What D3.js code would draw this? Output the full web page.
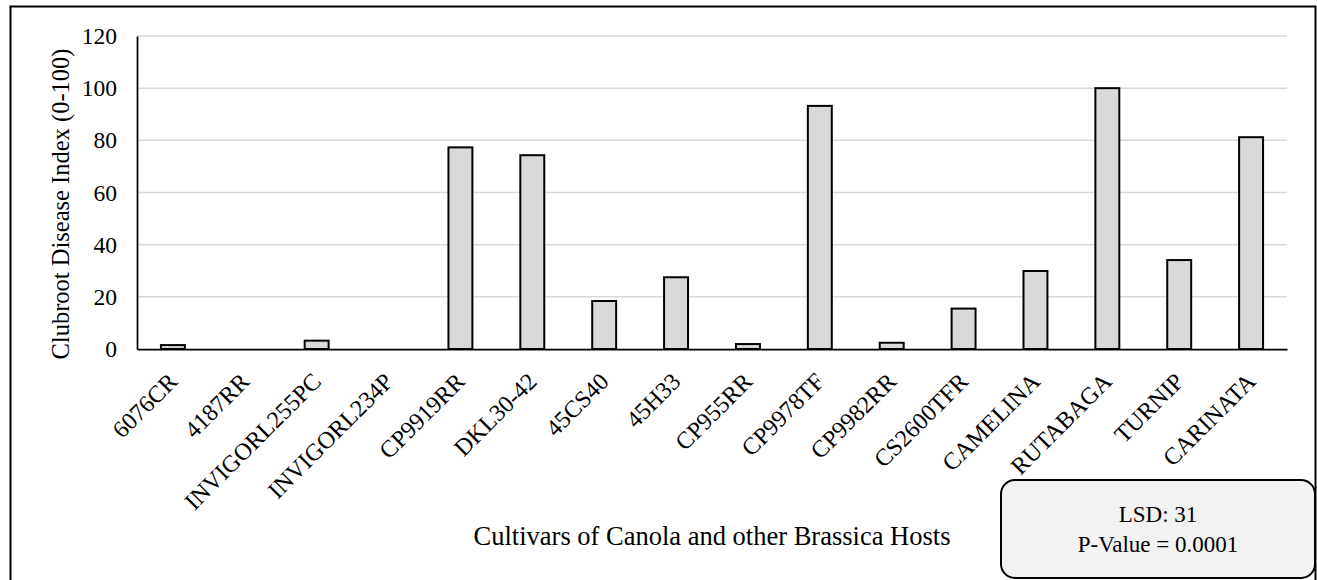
<!DOCTYPE html>
<html>
<head>
<meta charset="utf-8">
<script src="https://cdn.jsdelivr.net/npm/d3@7"></script>
<style>
  html, body { margin: 0; padding: 0; background: #fff; }
  svg { display: block; }
  text { font-family: "Liberation Serif", "Times New Roman", serif; fill: #000; }
</style>
</head>
<body>
<svg id="chart" width="1317" height="580"></svg>
<script>
const categories = ["6076CR", "4187RR", "INVIGORL255PC", "INVIGORL234P", "CP9919RR", "DKL30-42",
  "45CS40", "45H33", "CP955RR", "CP9978TF", "CP9982RR", "CS2600TFR", "CAMELINA", "RUTABAGA",
  "TURNIP", "CARINATA"];
const diseaseIndex = [1.5, 0, 3.2, 0, 77.3, 74.3, 18.4, 27.5, 1.9, 93.2, 2.4, 15.5, 29.9, 100, 34.1, 81.2];
const yTicks = [0, 20, 40, 60, 80, 100, 120];
const yTitle = "Clubroot Disease Index (0-100)";
const xTitle = "Cultivars of Canola and other Brassica Hosts";
const noteLines = ["LSD: 31", "P-Value = 0.0001"];

const svg = d3.select("#chart");
const plot = { left: 137, right: 1287, top: 36, bottom: 349 };

// outer frame
svg.append("rect").attr("x", 10.5).attr("y", 6.5).attr("width", 1305).attr("height", 590)
  .attr("fill", "#fff").attr("stroke", "#000").attr("stroke-width", 2);

const x = d3.scaleBand().domain(categories).range([plot.left, plot.right]).paddingInner(0.667).paddingOuter(0.333);
const y = d3.scaleLinear().domain([0, 120]).range([plot.bottom, plot.top]);

// gridlines
svg.append("g").selectAll("line").data(yTicks.filter(d => d > 0)).join("line")
  .attr("x1", plot.left).attr("x2", plot.right)
  .attr("y1", d => y(d)).attr("y2", d => y(d))
  .attr("stroke", "#d9d9d9").attr("stroke-width", 1.5);

// y axis
const yAxis = svg.append("g").attr("transform", `translate(${plot.left},0)`)
  .call(d3.axisLeft(y).tickValues(yTicks).tickSize(0).tickPadding(20));
yAxis.select(".domain").attr("stroke", "#000").attr("stroke-width", 1.75);
yAxis.selectAll("text").style("font-size", "23.5px").style("font-family", "Liberation Serif");

// bars
svg.append("g").selectAll("rect").data(diseaseIndex).join("rect")
  .attr("x", (d, i) => x(categories[i]))
  .attr("width", x.bandwidth())
  .attr("y", d => y(d))
  .attr("height", d => y(0) - y(d))
  .attr("fill", d => d > 0 ? "#d9d9d9" : "none")
  .attr("stroke", d => d > 0 ? "#000" : "none")
  .attr("stroke-width", 2);

// x axis
const xAxis = svg.append("g").attr("transform", `translate(0,${plot.bottom})`)
  .call(d3.axisBottom(x).tickSize(0).tickSizeOuter(0));
xAxis.select(".domain").attr("stroke", "#000").attr("stroke-width", 1.75);
xAxis.selectAll("text")
  .attr("text-anchor", "end")
  .attr("y", 0).attr("dy", 0)
  .attr("transform", "translate(6,34) rotate(-45)")
  .style("font-size", "24px").style("font-family", "Liberation Serif");

// y title
svg.append("text")
  .attr("transform", `translate(69,204) rotate(-90)`)
  .attr("text-anchor", "middle")
  .style("font-size", "24.5px")
  .text(yTitle);

// x title
svg.append("text")
  .attr("x", (plot.left + plot.right) / 2).attr("y", 545)
  .attr("text-anchor", "middle")
  .style("font-size", "26.5px")
  .text(xTitle);

// note box
svg.append("rect").attr("x", 1001).attr("y", 480).attr("width", 314).attr("height", 98)
  .attr("rx", 14).attr("ry", 14)
  .attr("fill", "#f2f2f2").attr("stroke", "#000").attr("stroke-width", 2);
svg.append("g").selectAll("text").data(noteLines).join("text")
  .attr("x", 1158).attr("y", (d, i) => 522 + i * 30)
  .attr("text-anchor", "middle")
  .style("font-size", "23px")
  .text(d => d);
</script>
</body>
</html>
